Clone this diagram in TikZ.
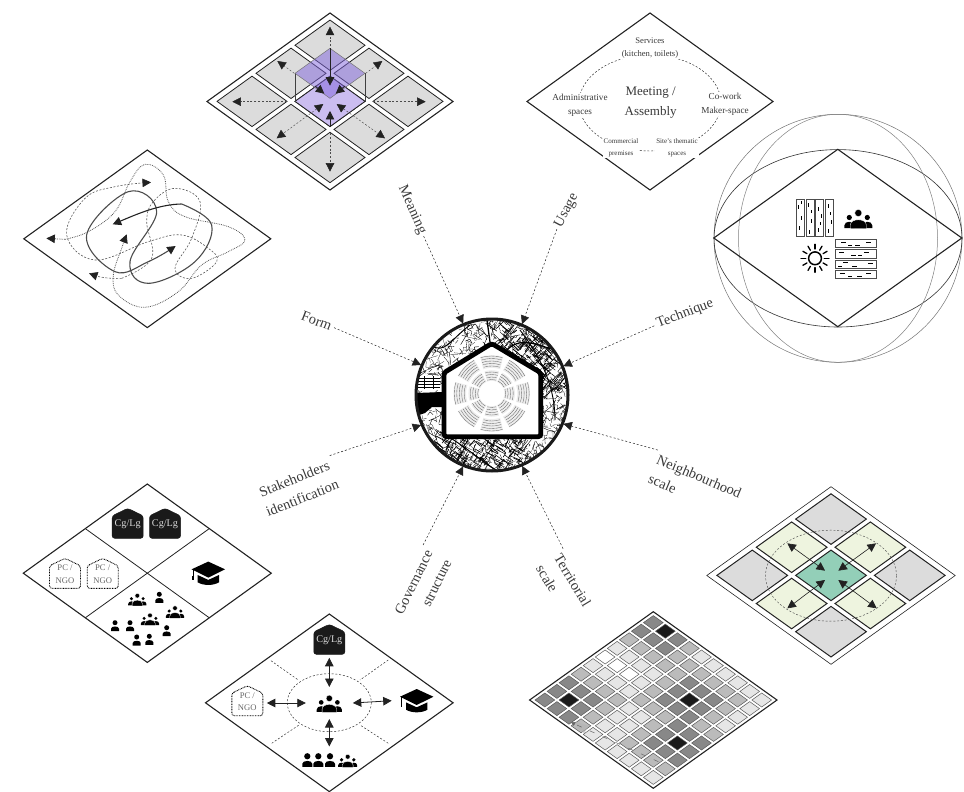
\documentclass[tikz,border=0pt]{standalone}
\usepackage{fontspec}
\setmainfont{Liberation Serif}
\usetikzlibrary{arrows.meta,calc}
\definecolor{ink}{HTML}{222222}
\definecolor{txt}{HTML}{3A3A3A}
\definecolor{cellgray}{HTML}{DCDCDC}
\definecolor{lv0}{HTML}{FFFFFF}
\definecolor{lv1}{HTML}{E6E6E6}
\definecolor{lv2}{HTML}{BBBBBB}
\definecolor{lv3}{HTML}{888888}
\definecolor{lv4}{HTML}{1A1A1A}
\definecolor{flatpurple}{HTML}{CBBDF0}
\definecolor{liftpurple}{HTML}{8064DC}
\definecolor{teal}{HTML}{93CFB8}
\definecolor{palegreen}{HTML}{EEF4DF}
\tikzset{
  iso/.style n args={3}{shift={(#1)},x={(#2pt,-#3pt)},y={(-#2pt,-#3pt)}},
  zoomed/.style={shift={(#1)},x=.33333pt,y=-.33333pt},
  rhomb/.style={draw=ink,line width=1.1pt,line join=miter},
  spoke/.style={draw=ink,line width=.5pt,dash pattern=on 2pt off 2pt,-{Triangle[length=8.5pt,width=8.5pt]},color=ink},
  lbl/.style={font=\fontsize{14.4}{21}\selectfont,text=txt,inner sep=0pt,outer sep=3pt},
  usetxt/.style={text=txt,fill=white,inner sep=1pt,align=center},
  thindash/.style={draw=ink,line width=.45pt,dash pattern=on 2pt off 1.8pt},
  twohead/.style={draw=ink,line width=.8pt,{Triangle[length=8.5pt,width=8.5pt]}-{Triangle[length=8.5pt,width=8.5pt]}},
  thinhead/.style={draw=ink,line width=.6pt,{Triangle[length=8.5pt,width=8.5pt]}-{Triangle[length=8.5pt,width=8.5pt]}},
  dashone/.style={thindash,draw=black!70,-{Triangle[length=8.5pt,width=8.5pt,color=ink]}},
  dashtwo/.style={thindash,draw=black!70,{Triangle[length=8.5pt,width=8.5pt,color=ink]}-{Triangle[length=8.5pt,width=8.5pt,color=ink]}},
  soliddrop/.style={draw=ink,line width=.8pt,-{Triangle[length=8.5pt,width=8.5pt]}},
  slot/.style={inner sep=0pt,outer sep=0pt},
  seat/.style={draw=black!60,line width=.4pt,dash pattern=on .6pt off .35pt},
}
% a short arrow between two named points
\newcommand{\arr}[3]{\coordinate (arrA) at (#2);\coordinate (arrB) at (#3);\draw[#1] (arrA) -- (arrB);}
% people
\newcommand{\solo}[3]{\begin{scope}[shift={(#1,#2)},scale=#3]
  \fill[black] (0,-3) circle (2.5);
  \fill[black] (-4,5.5) -- (-4,3) .. controls (-4,0) and (4,0) .. (4,3) -- (4,5.5) -- cycle;
\end{scope}}
\newcommand{\crowd}[3]{\begin{scope}[shift={(#1,#2)},scale=#3]
  \fill[black] (-9,-1) circle (2.6);
  \fill[black] (9,-1) circle (2.6);
  \fill[black] (-14,9.5) -- (-14,7) .. controls (-14,2) and (-4,2) .. (-4,7) -- (-4,9.5) -- cycle;
  \fill[black] (14,9.5) -- (14,7) .. controls (14,2) and (4,2) .. (4,7) -- (4,9.5) -- cycle;
  \filldraw[fill=black,draw=white,line width=.35pt] (-8,10.2) -- (-8,6.5) .. controls (-8,-.5) and (8,-.5) .. (8,6.5) -- (8,10.2) -- cycle;
  \filldraw[fill=black,draw=white,line width=.35pt] (0,-5.5) circle (3.6);
\end{scope}}
\newcommand{\gradcap}[3]{\begin{scope}[shift={(#1,#2)},scale=#3]
  \fill[black] (-10.7,1.7) -- (0,6.6) -- (10.7,1.7) -- (10.7,9) .. controls (5,12.5) and (-5,12.5) .. (-10.7,9) -- cycle;
  \fill[black] (-16.7,-4) -- (0,-11.7) -- (16.7,-4) -- (0,4.3) -- cycle;
  \draw[black,line width=.5pt] (-15.2,-3.5) -- (-15.2,3);
  \fill[black] (-16,3) rectangle (-14.4,6.5);
\end{scope}}
% house shaped tags: name, x, y, text, shape style, text style
\newcommand{\hometag}[6]{\begin{scope}[shift={(#2,#3)}]
  \draw[#5,rounded corners=2.5pt] (-15.5,-7.5) -- (0,-15) -- (15.5,-7.5) -- (15.5,15) -- (-15.5,15) -- cycle;
  \node[slot,minimum width=31pt,minimum height=30pt,align=center,#6] (#1) at (0,1) {#4};
\end{scope}}
\newcommand{\cgtag}[3]{\hometag{#1}{#2}{#3}{Cg/Lg}{fill=lv4,draw=lv4,line width=.5pt}{text=black!15,font=\fontsize{10.2}{12}\selectfont}}
\newcommand{\pctag}[3]{\hometag{#1}{#2}{#3}{PC /\\NGO}{draw=black,line width=.9pt,dash pattern=on .8pt off .8pt,fill=white}{text=black!60,font=\fontsize{8.6}{12.5}\selectfont}}
\begin{document}
\begin{tikzpicture}[x=1pt,y=-1pt]
\useasboundingbox (0,0) rectangle (964,792);

% ---------- central map ----------
\begin{scope}
  \clip (492,395) circle (75);
  \pgfmathsetseed{12}
  \foreach \i in {1,...,1300}{
    \pgfmathsetmacro\xa{416+rnd*152}
    \pgfmathsetmacro\ya{319+rnd*152}
    \pgfmathsetmacro\ang{rnd*360}
    \pgfmathsetmacro\angb{\ang+90*round(rnd)+rnd*20-10}
    \pgfmathsetmacro\len{1.5+rnd*5}
    \pgfmathsetmacro\wid{.15+rnd*.3}
    \draw[black,line width=\wid pt,line join=round] (\xa,\ya) -- ++(\ang:\len) -- ++(\angb:\len);
  }
  \foreach \i in {1,...,320}{
    \pgfmathsetmacro\xa{495+rnd*72}
    \pgfmathsetmacro\ya{322+rnd*70}
    \pgfmathsetmacro\ang{35+90*round(rnd*3)+rnd*12}
    \pgfmathsetmacro\len{3+rnd*11}
    \pgfmathsetmacro\wid{.3+rnd*.6}
    \draw[black,line width=\wid pt] (\xa,\ya) -- ++(\ang:\len);
  }
  \foreach \i in {1,...,240}{
    \pgfmathsetmacro\xa{440+rnd*90}
    \pgfmathsetmacro\ya{438+rnd*33}
    \pgfmathsetmacro\ang{20+90*round(rnd*3)+rnd*25}
    \pgfmathsetmacro\len{3+rnd*9}
    \pgfmathsetmacro\wid{.25+rnd*.5}
    \draw[black,line width=\wid pt] (\xa,\ya) -- ++(\ang:\len);
  }
  \draw[black,line width=1.3pt] (487,320) -- (490,342);
  \draw[black,line width=1.2pt] (505,352) .. controls (520,335) and (535,345) .. (556,350);
  \draw[black,line width=1pt] (430,345) .. controls (445,355) and (450,340) .. (470,325);
  \draw[black,line width=1pt] (440,432) .. controls (465,445) and (485,465) .. (500,472);
  \draw[black,line width=.9pt] (520,330) .. controls (535,350) and (555,380) .. (555,420);
  \fill[black] (416,393) -- (443,392) -- (443,407) -- (432,407) -- (425,413) -- (416,416) -- cycle;
  \fill[white] (418,376) rectangle (440,389);
  \draw[black,line width=.5pt] (418,378) -- (440,378) (418,381) -- (440,381) (418,384) -- (440,384) (418,387) -- (440,387) (424,376) -- (424,389) (433,376) -- (433,389);
\end{scope}

% ---------- house ----------
\draw[black,line width=4.8pt,fill=white,line join=round,rounded corners=2.5pt]
  (491.7,343.5) -- (540.7,372.7) -- (540.7,436.7) -- (444,436.7) -- (444,372.7) -- cycle;
\foreach \a in {0,45,...,315}{
  \draw[black!7,line width=12.5pt] (491.7,393.5) ++(\a-18:32) arc[start angle=\a-18,end angle=\a+18,radius=32];
  \draw[black!7,line width=10.5pt] (491.7,393.5) ++(\a-19:18) arc[start angle=\a-19,end angle=\a+19,radius=18];
  \foreach \r in {27.5,30,32.5,35,37.5}{
    \draw[seat] (491.7,393.5) ++(\a-17:\r) arc[start angle=\a-17,end angle=\a+17,radius=\r];
  }
  \foreach \r in {14,16.5,19,21.5}{
    \draw[seat] (491.7,393.5) ++(\a-18:\r) arc[start angle=\a-18,end angle=\a+18,radius=\r];
  }
}

% ---------- hub and labels ----------
\node[circle,draw=lv4,line width=3pt,minimum size=152pt,inner sep=0pt,outer sep=1pt] (hub) at (492,395) {};

\node[lbl,rotate=-66] (lmeaning) at (412,210) {Meaning};
\node[lbl,rotate=62] (lusage) at (566.7,210.7) {Usage};
\node[lbl,rotate=21] (ltechnique) at (685,314) {Technique};
\node[lbl,rotate=-21] (lform) at (316.7,321) {Form};
\node[lbl,rotate=-23,align=left] (lneigh) at (695,486) {Neighbourhood\\scale};
\node[lbl,rotate=-59,align=left] (lterr) at (563.7,585.7) {Territorial\\scale};
\node[lbl,rotate=64,align=right] (lgov) at (423,587) {Governance\\structure};
\node[lbl,rotate=22,align=center] (lstake) at (298.3,488.3) {Stakeholders\\identification};

\draw[spoke] (lmeaning.east) -- (hub.112.4);
\draw[spoke] (lusage.west) -- (hub.67.6);
\draw[spoke] (ltechnique.west) -- (hub.22.6);
\draw[spoke] (lform.east) -- (hub.157.4);
\draw[spoke] (lneigh.north west) -- (hub.-22.6);
\draw[spoke] (lterr.north west) -- (hub.-67.6);
\draw[spoke] (lgov.north east) -- (hub.-112.4);
\draw[spoke] (lstake.north east) -- (hub.-157.4);

% ---------- Meaning ----------
\begin{scope}[iso={330,13}{123}{88.5}]
  \draw[rhomb] (0,0) -- (1,0) -- (1,1) -- (0,1) -- cycle;
  \foreach \i in {0,1,2}{\foreach \j in {0,1,2}{
    \pgfmathsetmacro\ua{.04+.317*\i}
    \pgfmathsetmacro\va{.04+.317*\j}
    \filldraw[fill=cellgray,draw=ink,line width=.8pt] (\ua,\va) -- ++(.2846,0) -- ++(0,.2846) -- ++(-.2846,0) -- cycle;
  }}
  \filldraw[fill=flatpurple,draw=ink,line width=.8pt] (.357,.357) -- ++(.2846,0) -- ++(0,.2846) -- ++(-.2846,0) -- cycle;
\end{scope}
\begin{scope}[zoomed={200,5}]
  \draw[black!75,line width=1pt] (285,205) -- (285,290) (495,205) -- (495,290);
  \filldraw[fill=liftpurple,fill opacity=.5,draw=black!55,line width=.5pt] (390,130) -- (495,205) -- (390,280) -- (285,205) -- cycle;
  \arr{dashone}{390,135}{390,65}
  \arr{dashone}{283,205}{232,168}
  \arr{dashone}{497,205}{547,168}
  \arr{dashone}{260,290}{97,290}
  \arr{dashone}{520,290}{677,290}
  \arr{dashtwo}{370,297}{230,400}
  \arr{dashtwo}{410,297}{555,400}
  \arr{dashone}{390,385}{390,500}
  \arr{soliddrop}{390,130}{390,242}
  \arr{soliddrop}{345,243}{373,266}
  \arr{soliddrop}{435,243}{407,266}
  \arr{soliddrop}{390,365}{390,318}
\end{scope}

% ---------- Usage ----------
\begin{scope}[iso={650,13}{123}{88.5}]
  \draw[rhomb] (0,0) -- (1,0) -- (1,1) -- (0,1) -- cycle;
\end{scope}
\draw[thindash] (650,103) ellipse (71 and 48);
\node[usetxt,font=\fontsize{8.6}{13}\selectfont] (uservices) at (650,48) {Services\\(kitchen, toilets)};
\node[usetxt,font=\fontsize{13}{19.3}\selectfont] (umeeting) at (650.7,102.7) {Meeting /\\Assembly};
\node[usetxt,font=\fontsize{9.2}{14}\selectfont] (uadmin) at (580,105) {Administrative\\spaces};
\node[usetxt,font=\fontsize{9.2}{14}\selectfont] (ucowork) at (725,104.3) {Co-work\\Maker-space};
\node[usetxt,font=\fontsize{7}{11.5}\selectfont] (ucomm) at (621,147.7) {Commercial\\premises};
\node[usetxt,font=\fontsize{7}{11.5}\selectfont] (usite) at (677,147.7) {Site's thematic\\spaces};

% ---------- Technique ----------
\draw[black!55,line width=.5pt] (838,238.3) circle (124);
\draw[black!80,line width=.6pt] (838,238.3) ellipse (124 and 88.7);
\draw[black!50,line width=.5pt] (838,238.3) ellipse (99.5 and 124);
\begin{scope}[iso={837.8,149.3}{124}{88.7}]
  \draw[rhomb] (0,0) -- (1,0) -- (1,1) -- (0,1) -- cycle;
\end{scope}
\foreach \px/\qa/\qb/\qc/\qd in {796/205/216/226/201,806/203/219/230/210,815.5/207/214/228/222,825.5/204/220/229/212}{
  \draw[black!70,line width=.9pt] (\px,199) rectangle ++(8,37.7);
  \draw[black,line width=.55pt] (\px+2.5,\qa) -- ++(0,4) (\px+5.5,\qb) -- ++(0,4) (\px+3,\qc) -- ++(0,4) (\px+5,\qd) -- ++(0,3);
}
\foreach \py/\qa/\qb/\qc/\qd in {239.3/841/855/866/848,249.7/839/851/864/858,260/843/852/868/838,270.3/840/857/866/848}{
  \draw[black!70,line width=.9pt] (835.7,\py) rectangle ++(41,8.4);
  \draw[black,line width=.55pt] (\qa,\py+2.5) -- ++(5,0) (\qb,\py+5.8) -- ++(5,0) (\qc,\py+3) -- ++(5,0) (\qd,\py+6) -- ++(4,0);
}
\draw[black,line width=1.5pt] (815,258.3) circle (6.4);
\foreach \a in {0,30,...,330}{
  \draw[black,line width=1.3pt,line cap=round] (815,258.3) ++(\a:9.3) -- ++(\a:4.7);
}
\crowd{858.3}{218.5}{1}

% ---------- Form ----------
\begin{scope}[iso={147.3,150}{123.5}{88.8}]
  \draw[rhomb] (0,0) -- (1,0) -- (1,1) -- (0,1) -- cycle;
\end{scope}
\begin{scope}[zoomed={15,145}]
  \draw[black!65,line width=.8pt,dash pattern=on .8pt off 1pt,-{Triangle[length=8.5pt,width=8.5pt,color=ink]}]
    plot[smooth,tension=.65] coordinates {(150,283) (220,260) (300,200) (345,110) (390,58) (445,90) (460,170) (510,215) (640,245) (690,285) (640,320) (560,360) (490,440) (390,487) (310,450) (295,390) (320,310) (335,268)};
  \draw[black!65,line width=.8pt,dash pattern=on .8pt off 1pt,-{Triangle[length=8.5pt,width=8.5pt,color=ink]}] (150,283) -- (94,280);
  \draw[black!65,line width=.6pt,dash pattern=on 2pt off 1.6pt,-{Triangle[length=8.5pt,width=8.5pt,color=ink]}]
    plot[smooth,tension=.65] coordinates {(320,400) (410,340) (395,230) (415,170) (480,130) (555,170) (530,280) (480,370) (530,400) (605,350) (580,310) (500,270) (400,290) (240,345) (155,270) (210,160) (300,125) (408,112)};
  \draw[black!65,line width=.6pt,dash pattern=on 2pt off 1.6pt,-{Triangle[length=8.5pt,width=8.5pt,color=ink]}] (320,400) .. controls (280,402) and (250,395) .. (222,385);
  \draw[black!70,line width=1.1pt,-{Triangle[length=8.5pt,width=8.5pt,color=ink]}]
    plot[smooth,tension=.65] coordinates {(500,177) (590,240) (540,350) (400,415) (345,350) (425,200) (340,140) (215,270) (300,380) (400,350) (482,303)};
  \draw[ink,line width=1.1pt,-{Triangle[length=8.5pt,width=8.5pt,color=ink]}] (500,177) .. controls (430,178) and (360,210) .. (293,238);
\end{scope}

% ---------- Stakeholders ----------
\begin{scope}[iso={147.3,484}{124}{89.2}]
  \draw[rhomb] (0,0) -- (1,0) -- (1,1) -- (0,1) -- cycle;
  \draw[ink,line width=.8pt] (.5,0) -- (.5,1) (0,.5) -- (1,.5);
\end{scope}
\cgtag{scga}{127.7}{523.3}
\cgtag{scgb}{165}{523.3}
\pctag{spca}{65}{573.3}
\pctag{spcb}{102.7}{573.3}
\gradcap{208.3}{573.3}{1}
\crowd{137.3}{599.3}{.65}
\crowd{150}{619}{.65}
\crowd{175}{611.7}{.65}
\solo{159.3}{597.3}{1}
\solo{115}{625.7}{1}
\solo{130}{625.7}{1}
\solo{166.7}{630.7}{1}
\solo{136.7}{640}{1}
\solo{149.3}{639.3}{1}

% ---------- Governance ----------
\begin{scope}[iso={329.3,614}{123.8}{88.8}]
  \draw[rhomb] (0,0) -- (1,0) -- (1,1) -- (0,1) -- cycle;
\end{scope}
\draw[thindash] (329.3,702.7) ellipse (42 and 29);
\coordinate (gnw) at (271,660.7); \coordinate (gne) at (388.3,660);
\coordinate (gsw) at (271.7,743.3); \coordinate (gse) at (388.3,743.3);
\coordinate (gnwi) at (298.3,680); \coordinate (gnei) at (360,680);
\coordinate (gswi) at (299,725); \coordinate (gsei) at (360,725);
\draw[thindash] (gnw) -- (gnwi) (gne) -- (gnei) (gsw) -- (gswi) (gse) -- (gsei);
\cgtag{gcg}{329.3}{639.3}
\pctag{gpc}{247.3}{700.7}
\crowd{329.3}{703.3}{.9}
\gradcap{416.7}{700.7}{1}
\solo{307.3}{760}{1.25}
\solo{318.3}{760}{1.25}
\solo{330}{760}{1.25}
\crowd{347.7}{760.5}{.68}
\node[slot,minimum width=47pt,minimum height=32pt] (gcenter) at (329.3,703) {};
\node[slot,minimum width=50pt,minimum height=26pt] (gcap) at (416.7,700.7) {};
\node[slot,minimum width=60pt,minimum height=27pt] (gfolk) at (329.3,760) {};
\draw[twohead,shorten <=2.5pt] (gcg.south) -- (gcenter.north);
\draw[twohead,shorten >=0pt] (gcenter.south) -- (gfolk.north);
\draw[twohead,shorten <=4pt] (gpc.east |- gcenter.west) -- (gcenter.west);
\draw[twohead] (gcenter.east) -- (gcap.west);

% ---------- Territorial ----------
\begin{scope}[iso={653.3,611.7}{123.7}{88.3}]
  \draw[rhomb] (0,0) -- (1,0) -- (1,1) -- (0,1) -- cycle;
  \foreach \row [count=\j from 0] in {{3,4,3,2,1,1,1,1,1,1},{3,3,3,2,2,2,2,2,2,1},{2,2,2,2,2,3,3,3,2,1},{1,1,1,1,2,3,4,3,2,1},{0,0,0,1,2,3,3,3,2,2},{1,1,1,1,2,2,2,3,3,3},{2,2,2,2,1,1,2,3,4,3},{3,3,3,2,1,1,2,3,3,3},{3,4,3,2,1,1,2,2,2,2},{3,3,3,2,1,1,1,1,1,1}}{
    \foreach \lv [count=\i from 0] in \row {
      \pgfmathsetmacro\ua{.022+.0974*\i}
      \pgfmathsetmacro\va{.022+.0974*\j}
      \filldraw[fill=lv\lv,draw=black!65,line width=.5pt] (\ua,\va) -- ++(.0794,0) -- ++(0,.0794) -- ++(-.0794,0) -- cycle;
    }
  }
\end{scope}
\begin{scope}[zoomed={525,605}]
  \fill[black!30,opacity=.6] (150,350) -- (190,362) -- (178,385) -- (160,372) -- cycle;
  \arr{draw=black!60,line width=.5pt,dash pattern=on 5pt off 9pt,-{Triangle[length=4pt,width=4pt]}}{400,470}{138,352}
\end{scope}

% ---------- Neighbourhood ----------
\begin{scope}[iso={831,486.7}{124.2}{88.8}]
  \draw[draw=ink,line width=.6pt] (0,0) -- (1,0) -- (1,1) -- (0,1) -- cycle;
  \foreach \i/\j/\c in {0/0/cellgray,1/0/palegreen,2/0/cellgray,0/1/palegreen,1/1/teal,2/1/palegreen,0/2/cellgray,1/2/palegreen,2/2/cellgray}{
    \pgfmathsetmacro\ua{.04+.317*\i}
    \pgfmathsetmacro\va{.04+.317*\j}
    \filldraw[fill=\c,draw=ink,line width=1pt] (\ua,\va) -- ++(.2846,0) -- ++(0,.2846) -- ++(-.2846,0) -- cycle;
  }
\end{scope}
\draw[thindash,draw=black!70] (831,575.7) ellipse (65.5 and 45.5);
\begin{scope}[zoomed={700,480}]
  \arr{thinhead}{262,190}{375,272}
  \arr{thinhead}{528,190}{415,272}
  \arr{thinhead}{262,385}{375,300}
  \arr{thinhead}{530,385}{415,300}
\end{scope}
\end{tikzpicture}
\end{document}
